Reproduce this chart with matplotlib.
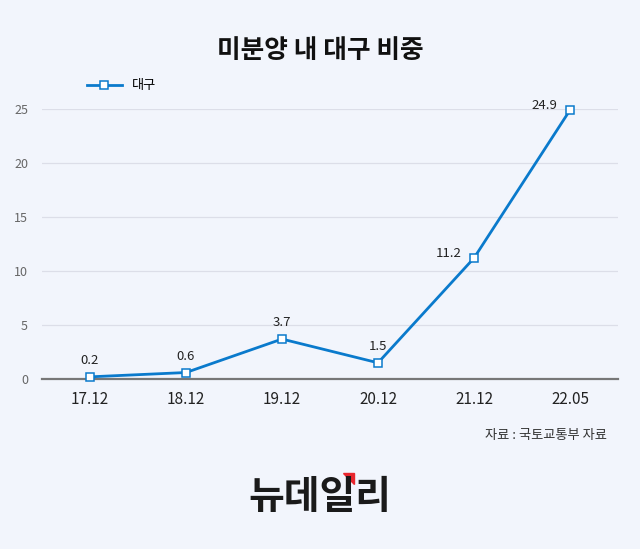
import matplotlib
matplotlib.use("Agg")
import matplotlib.pyplot as plt
from matplotlib.patches import Polygon

plt.rcParams['font.family'] = ['Noto Sans CJK KR', 'DejaVu Sans']

# 데이터
periods = ["17.12", "18.12", "19.12", "20.12", "21.12", "22.05"]
daegu = [0.2, 0.6, 3.7, 1.5, 11.2, 24.9]
yticks = [0, 5, 10, 15, 20, 25]

bg = "#f2f5fc"
blue = "#0a7acc"

fig = plt.figure(figsize=(6.4, 5.49), dpi=100, facecolor=bg)
ax = fig.add_axes([42 / 640, 1 - 379 / 549, 576 / 640, 270 / 549], facecolor=bg)

x = list(range(len(periods)))
line, = ax.plot(x, daegu, color=blue, linewidth=2, marker="s", markersize=6,
                markerfacecolor="white", markeredgecolor=blue, markeredgewidth=1.1,
                clip_on=False, zorder=3, label="대구")

# 데이터 라벨
for i, v in enumerate(daegu):
    if i >= 4:
        ax.annotate(f"{v}", (i, v), xytext=(-9, 3), textcoords="offset points",
                    ha="right", va="center", fontsize=9.5, color="#222222")
    else:
        ax.annotate(f"{v}", (i, v), xytext=(0, 7), textcoords="offset points",
                    ha="center", va="bottom", fontsize=9.5, color="#222222")

ax.set_xlim(-0.5, len(periods) - 0.5)
ax.set_ylim(0, 25)
ax.set_yticks(yticks)
ax.set_xticks(x)
ax.set_xticklabels(periods, fontsize=11, color="#222222")
ax.tick_params(axis="y", labelsize=9, labelcolor="#666666", length=0, pad=10)
ax.tick_params(axis="x", length=0, pad=9)
ax.grid(axis="y", color="#dcdee8", linewidth=0.9)
ax.set_axisbelow(True)
for side in ["top", "right", "left"]:
    ax.spines[side].set_visible(False)
ax.spines["bottom"].set_color("#777777")
ax.spines["bottom"].set_linewidth(1.6)

leg = ax.legend(loc="upper left", bbox_to_anchor=(40 / 576, 1.13), frameon=False,
                fontsize=9.5, handlelength=2.6, borderaxespad=0)

fig.text(0.5, 1 - 50 / 549, "미분양 내 대구 비중", ha="center", va="center",
         fontsize=18.5, fontweight="bold", color="#111111")
fig.text(607 / 640, 1 - 435 / 549, "자료 : 국토교통부 자료", ha="right", va="center",
         fontsize=9.5, color="#333333")

# 로고
fig.text(0.5, 1 - 497 / 549, "뉴데일리", ha="center", va="center",
         fontsize=28, fontweight="black", color="#1a1a1a")
tri = Polygon([[343 / 640, 1 - 473 / 549], [354 / 640, 1 - 473 / 549], [354 / 640, 1 - 484 / 549]],
              closed=True, transform=fig.transFigure, color="#e8262d")
fig.patches.append(tri)

plt.savefig("out.png", dpi=100, facecolor=bg)
